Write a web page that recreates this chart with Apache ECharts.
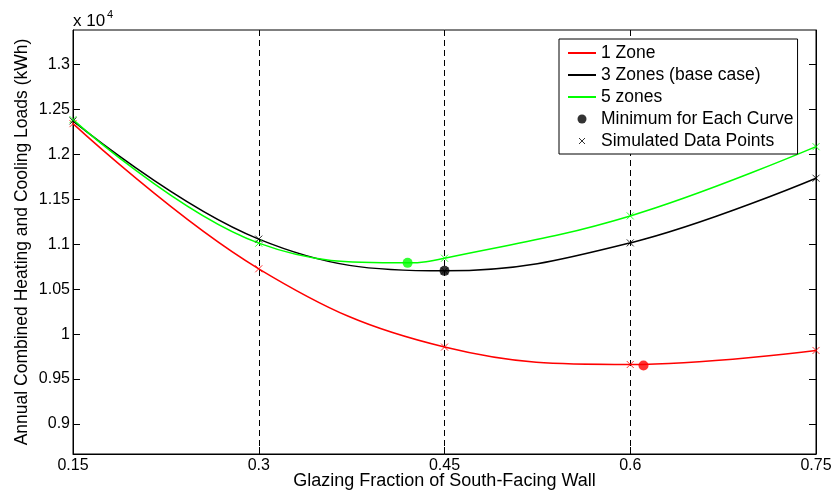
<!DOCTYPE html>
<html>
<head>
<meta charset="utf-8">
<script src="https://cdn.jsdelivr.net/npm/echarts@6/dist/echarts.min.js"></script>
<style>html,body{margin:0;padding:0;background:#fff}#c{width:838px;height:499px}</style>
</head>
<body>
<div id="c"></div>
<script>
// ---- data (values in units of 10^4 kWh) ----
const xValues = [0.15, 0.3, 0.45, 0.6, 0.75];
const zone1 = [1.234, 1.0726, 0.9856, 0.9662, 0.9818];
const zone3 = [1.237, 1.1056, 1.0703, 1.1014, 1.1733];
const zone5 = [1.2385, 1.1011, 1.0844, 1.1314, 1.2084];
const minX = [0.6107, 0.45, 0.4202];
const minY = [0.9651, 1.0703, 1.0792];
const seriesNames = ['1 Zone', '3 Zones (base case)', '5 zones'];
const yTicks = [0.9, 0.95, 1.0, 1.05, 1.1, 1.15, 1.2, 1.25, 1.3];

const colors = ['#ff0000', '#000000', '#00ff00'];
const FONT = '"Liberation Sans", Arial, Helvetica, sans-serif';
const curves = [zone1, zone3, zone5];

// the minimum point lies on each curve; include it where it is not a sample point
function curveData(i) {
  const pts = xValues.map((x, k) => [x, curves[i][k]]);
  if (!xValues.some(x => Math.abs(x - minX[i]) < 0.02)) pts.push([minX[i], minY[i]]);
  pts.sort((a, b) => a[0] - b[0]);
  return pts;
}

const xMark = 'path://M0,0L10,10M10,0L0,10';
const series = [];
curves.forEach((c, i) => {
  series.push({
    name: seriesNames[i], type: 'line', data: curveData(i), smooth: 0.4,
    symbol: 'none', color: colors[i], lineStyle: {width: 1.5, color: colors[i]}, z: 3
  });
});
const simData = [];
curves.forEach((c, i) => xValues.forEach((x, k) => simData.push({
  value: [x, c[k]], itemStyle: {borderColor: colors[i], color: 'rgba(0,0,0,0)', borderWidth: 1}
})));
series.push({
  name: 'Simulated Data Points', type: 'scatter', data: simData, symbol: xMark, symbolSize: 7,
  itemStyle: {color: 'rgba(0,0,0,0)', borderColor: '#000', borderWidth: 1}, z: 4
});
series.push({
  name: 'Minimum for Each Curve', type: 'scatter', symbol: 'circle', symbolSize: 10,
  data: minX.map((x, i) => ({value: [x, minY[i]], itemStyle: {color: colors[i]}})),
  itemStyle: {color: '#000'}, z: 5
});

const noSym = {color: 'rgba(0,0,0,0)', borderColor: 'rgba(0,0,0,0)', borderWidth: 0};
const chart = echarts.init(document.getElementById('c'), null, {renderer: 'canvas'});
chart.setOption({
  animation: false,
  backgroundColor: '#fff',
  textStyle: {fontFamily: FONT},
  grid: {left: 73, right: 22, top: 30, bottom: 45, show: true, borderColor: '#000', borderWidth: 1,
    containLabel: false, outerBoundsMode: 'none'},
  xAxis: {
    type: 'value', min: 0.15, max: 0.75, interval: 0.15,
    name: 'Glazing Fraction of South-Facing Wall', nameLocation: 'middle', nameGap: 18,
    nameMoveOverlap: false,
    nameTextStyle: {fontSize: 18, color: '#000', fontFamily: FONT},
    axisLine: {lineStyle: {color: '#000', width: 1}},
    axisTick: {inside: true, length: 7, lineStyle: {color: '#000'}},
    axisLabel: {fontSize: 16, color: '#000', margin: 4, fontFamily: FONT,
      formatter: v => String(+v.toFixed(2))},
    splitLine: {show: true, lineStyle: {color: '#000', type: [6, 4], width: 1}}
  },
  yAxis: [{
    type: 'value', min: 0.8667, max: 1.3381,
    name: 'Annual Combined Heating and Cooling Loads (kWh)', nameLocation: 'middle', nameGap: 42,
    nameMoveOverlap: false,
    nameTextStyle: {fontSize: 17.5, color: '#000', fontFamily: FONT},
    axisLine: {show: true, lineStyle: {color: '#000', width: 1}},
    axisTick: {show: true, inside: true, length: 7, lineStyle: {color: '#000'}, customValues: yTicks},
    axisLabel: {fontSize: 16, color: '#000', margin: 3, fontFamily: FONT, customValues: yTicks,
      formatter: v => String(+(+v).toFixed(2))},
    splitLine: {show: false}
  }, {
    type: 'value', min: 0.8667, max: 1.3381, position: 'right',
    axisLine: {show: true, lineStyle: {color: '#000', width: 1}},
    axisTick: {show: true, inside: true, length: 7, lineStyle: {color: '#000'}, customValues: yTicks},
    axisLabel: {show: false},
    splitLine: {show: false}
  }],
  legend: {
    orient: 'vertical', left: 559, top: 39,
    padding: [5, 4, 4, 8], itemGap: 4, itemWidth: 28, itemHeight: 14,
    backgroundColor: '#fff', borderColor: '#000', borderWidth: 1, borderRadius: 0,
    textStyle: {fontSize: 17.5, color: '#000', fontFamily: FONT},
    data: [
      {name: seriesNames[0], itemStyle: noSym},
      {name: seriesNames[1], itemStyle: noSym},
      {name: seriesNames[2], itemStyle: noSym},
      {name: 'Minimum for Each Curve',
       icon: 'path://M0,0M28,14M9.5,7a4.5,4.5 0 1,0 9,0a4.5,4.5 0 1,0 -9,0',
       itemStyle: {color: '#000', borderWidth: 0}},
      {name: 'Simulated Data Points',
       icon: 'path://M0,0M28,14M11,4L17,10M17,4L11,10',
       itemStyle: {color: 'rgba(0,0,0,0)', borderColor: '#000', borderWidth: 1}}
    ]
  },
  graphic: [
    {type: 'text', left: 73, top: 13, style: {text: 'x 10', fill: '#000', font: '17px ' + FONT}},
    {type: 'text', left: 107, top: 9, style: {text: '4', fill: '#000', font: '11px ' + FONT}}
  ],
  series: series
});
</script>
</body>
</html>
